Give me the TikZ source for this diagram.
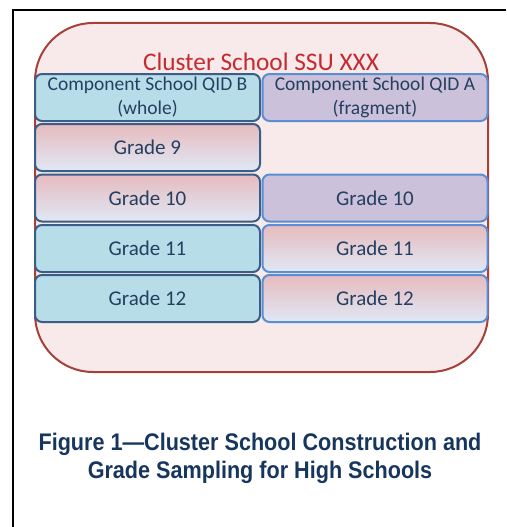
\documentclass[tikz,border=0pt]{standalone}
\usepackage{fontspec}
\setmainfont{Carlito}
\newfontfamily\capfont[FakeStretch=0.9]{Liberation Sans}
\usetikzlibrary{positioning}

\definecolor{clusterfill}{HTML}{F8EAEA}
\definecolor{clusterline}{HTML}{A5413A}
\definecolor{clusterred}{HTML}{C62A2F}
\definecolor{wholefill}{HTML}{B7DEE8}
\definecolor{wholeline}{HTML}{3B5E88}
\definecolor{fragfill}{HTML}{CCC1DA}
\definecolor{fragline}{HTML}{5A8FD6}
\definecolor{gradtop}{HTML}{E6BBBE}
\definecolor{gradmid}{HTML}{C2D1EC}
\definecolor{gradbot}{HTML}{E0E8F6}
\definecolor{boxtext}{HTML}{243F60}
\definecolor{captext}{HTML}{17365D}

\tikzset{
  cell/.style={rounded corners=7pt, line width=2pt, minimum width=225pt,
    minimum height=47pt, inner sep=0pt, text=boxtext, font=\fontsize{21}{24}\selectfont,
    align=center},
  wholecell/.style={cell, draw=wholeline, fill=wholefill},
  fragcell/.style={cell, draw=fragline, fill=fragfill},
  wholegrad/.style={cell, draw=wholeline, top color=gradtop, middle color=gradmid, bottom color=gradbot},
  fraggrad/.style={cell, draw=fragline, top color=gradtop, middle color=gradmid, bottom color=gradbot}
}

\begin{document}
\begin{tikzpicture}[x=1pt, y=-1pt]
        \useasboundingbox (0,0) rectangle (506,527);
        % page frame
        \draw[line width=1.5pt] (13,527) -- (13,10) -- (506,10);

        % cluster school
        \node[draw=clusterline, fill=clusterfill, line width=2pt, rounded corners=58pt,
              minimum width=453pt, minimum height=349pt, inner sep=0pt] (cluster) at (261.5,197.5) {};
        \node[text=clusterred, font=\fontsize{25.3}{28}\selectfont] (title) at (261,62) {Cluster School SSU XXX};

        % component schools
        \node[wholecell, font=\fontsize{19.5}{24}\selectfont] (qidB) at (147.5,97.5) {Component School QID B\\(whole)};
        \node[fragcell, font=\fontsize{19.5}{24}\selectfont] (qidA) at (375,97.5) {Component School QID A\\(fragment)};

        % grades
        \node[wholegrad] (b9) at (147.5,147.5) {Grade 9};
        \node[wholegrad] (b10) at (147.5,198) {Grade 10};
        \node[wholecell] (b11) at (147.5,248.5) {Grade 11};
        \node[wholecell] (b12) at (147.5,298.5) {Grade 12};
        \node[fragcell] (a10) at (375,198) {Grade 10};
        \node[fraggrad] (a11) at (375,248.5) {Grade 11};
        \node[fraggrad] (a12) at (375,298.5) {Grade 12};

        \node[text=captext, font=\capfont\bfseries\fontsize{24}{28}\selectfont, align=center]
        (caption) at (260,458) {Figure 1—Cluster School Construction and\\Grade Sampling for High Schools};
    \end{tikzpicture}
\end{document}
